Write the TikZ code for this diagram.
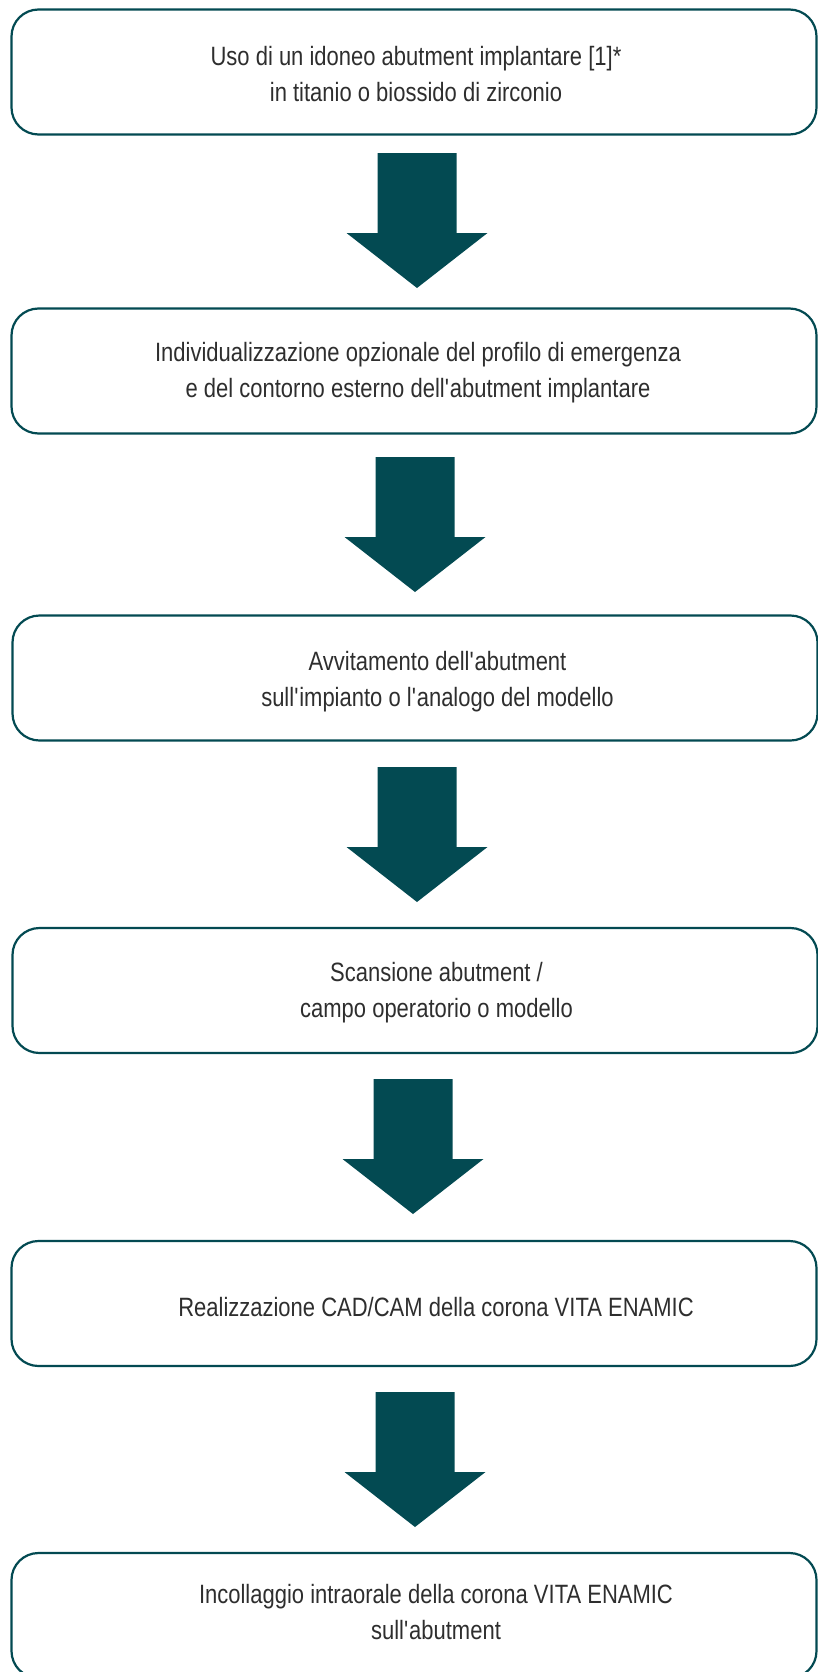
\documentclass[tikz,border=0pt]{standalone}
\usepackage{fontspec}
\setmainfont[FakeStretch=0.83]{Liberation Sans}
\usepackage{tikz}
\usepackage{xcolor}
\usetikzlibrary{
    calc,
    positioning
}
\definecolor{petrol}{RGB}{3,74,82}
\definecolor{ink}{RGB}{46,46,46}
\tikzset{
    stepbox/.style={draw=petrol, line width=2.2bp, rounded corners=27bp, minimum width=805bp, minimum height=125bp, inner sep=0pt},
    steptext/.style={text=ink, align=center, font=\fontsize{26.5bp}{36bp}\selectfont, inner sep=0pt},
    blockarrow/.pic={
        \fill[petrol] (-39.5, 0) -- (39.5, 0) -- (39.5, 80) -- (70.5, 80) -- (0, 135) -- (-70.5, 80) -- (-39.5, 80) -- cycle;
        \coordinate (-tip) at (0, 135);
    }
}

\begin{document}
\begin{tikzpicture}[x=1bp, y=-1bp]
                        \useasboundingbox (0, 0) rectangle (818, 1672);
                        \node[stepbox] (b1) at (414, 72) {};
                        \node[stepbox] (b2) at (414, 371) {};
                        \node[stepbox] (b3) at (415, 678) {};
                        \node[stepbox] (b4) at (415, 990.5) {};
                        \node[stepbox] (b5) at (414, 1303.5) {};
                        \node[stepbox] (b6) at (414, 1615.5) {};
                        \node[steptext] (t1) at (416, 74) {Uso di un idoneo abutment implantare [1]*\\in titanio o biossido di zirconio};
                        \node[steptext] (t2) at (418, 373) {Individualizzazione opzionale del profilo di emergenza\\e del contorno esterno dell\textquotesingle abutment implantare};
                        \node[steptext] (t3) at (437.5, 682) {Avvitamento dell\textquotesingle abutment\\sull\textquotesingle impianto o l\textquotesingle analogo del modello};
                        \node[steptext] (t4) at (436.5, 993) {Scansione abutment /\\campo operatorio o modello};
                        \node[steptext] (t5) at (436, 1307) {Realizzazione CAD/CAM della corona VITA ENAMIC};
                        \node[steptext] (t6) at (436, 1612) {Incollaggio intraorale della corona VITA ENAMIC\\sull\textquotesingle abutment};
                        \pic (a1) at (417, 153) {blockarrow};
                        \pic (a2) at (415, 457) {blockarrow};
                        \pic (a3) at (417, 767) {blockarrow};
                        \pic (a4) at (413, 1079) {blockarrow};
                        \pic (a5) at (415, 1392) {blockarrow};
                    \end{tikzpicture}
\end{document}
